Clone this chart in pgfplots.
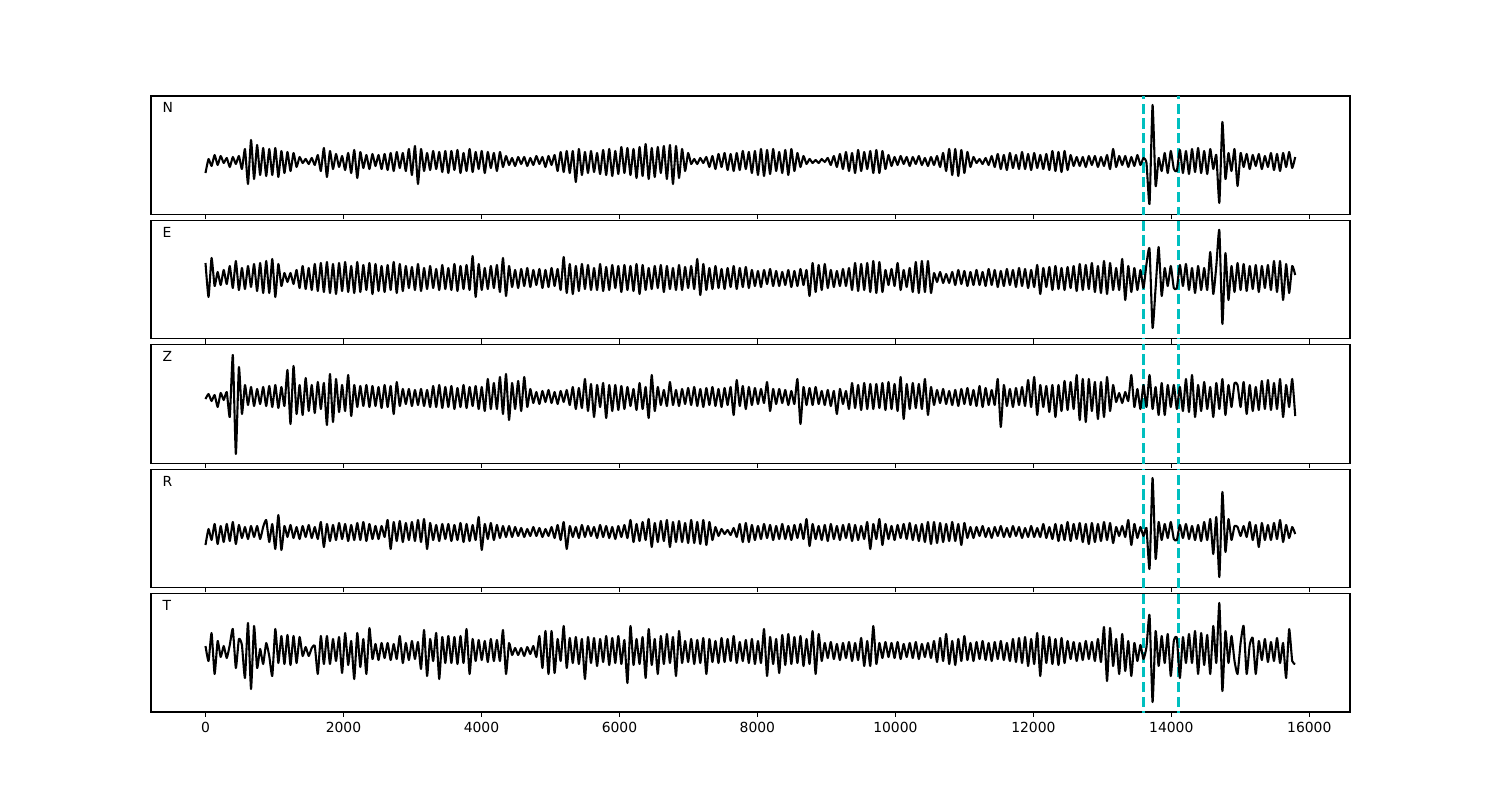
\documentclass[border=0pt]{standalone}
\usepackage{fontspec}
\setmainfont{DejaVu Sans}
\usepackage{pgfplots}
\usepackage{pgfplotstable}
\pgfplotsset{compat=1.18}
\definecolor{mplc}{rgb}{0,0.75,0.75}

% N component
\pgfplotstableread[row sep=\\]{y\\
-12\\ 2\\ -5\\ 6\\ -4\\ 5\\ -2\\ 3\\ -6\\ 4\\ -3\\ 5\\ -8\\ 12\\ -23\\ 21\\ -18\\ 16\\ -14\\ 13\\
-15\\ 12\\ -14\\ 13\\ -16\\ 10\\ -12\\ 9\\ -10\\ 8\\ -6\\ 4\\ -2\\ 2\\ -3\\ 3\\ -4\\ 6\\ -10\\ 13\\
-16\\ 10\\ -8\\ 7\\ -6\\ 5\\ -9\\ 8\\ -12\\ 11\\ -17\\ 9\\ -7\\ 6\\ -8\\ 7\\ -5\\ 6\\ -8\\ 7\\
-9\\ 8\\ -10\\ 9\\ -7\\ 8\\ -10\\ 12\\ -14\\ 15\\ -23\\ 12\\ -10\\ 8\\ -9\\ 10\\ -8\\ 9\\ -11\\ 10\\
-12\\ 10\\ -9\\ 11\\ -12\\ 8\\ -10\\ 12\\ -11\\ 9\\ -8\\ 10\\ -12\\ 9\\ -7\\ 8\\ -10\\ 9\\ -6\\ 5\\
-4\\ 3\\ -5\\ 4\\ -3\\ 4\\ -5\\ 3\\ -4\\ 5\\ -3\\ 4\\ -6\\ 5\\ -4\\ 6\\ -10\\ 9\\ -11\\ 10\\
-12\\ 10\\ -21\\ 12\\ -14\\ 9\\ -12\\ 10\\ -11\\ 8\\ -13\\ 11\\ -14\\ 12\\ -15\\ 10\\ -13\\ 14\\ -12\\ 13\\
-14\\ 12\\ -17\\ 14\\ -15\\ 17\\ -18\\ 13\\ -16\\ 14\\ -12\\ 15\\ -18\\ 16\\ -23\\ 15\\ -17\\ 12\\ -10\\ 8\\
-3\\ 2\\ -3\\ 3\\ -2\\ 4\\ -6\\ 5\\ -8\\ 7\\ -6\\ 8\\ -9\\ 7\\ -10\\ 8\\ -9\\ 10\\ -8\\ 9\\
-12\\ 10\\ -14\\ 12\\ -15\\ 11\\ -13\\ 12\\ -10\\ 9\\ -12\\ 11\\ -14\\ 12\\ -10\\ 8\\ -6\\ 5\\ -3\\ 2\\
-2\\ 1\\ -2\\ 2\\ -1\\ 3\\ -4\\ 5\\ -6\\ 7\\ -8\\ 9\\ -10\\ 8\\ -12\\ 11\\ -10\\ 9\\ -8\\ 10\\
-12\\ 11\\ -12\\ 10\\ -8\\ 6\\ -5\\ 4\\ -4\\ 5\\ -3\\ 4\\ -5\\ 4\\ -3\\ 5\\ -4\\ 3\\ -5\\ 4\\
-4\\ 5\\ -6\\ 8\\ -10\\ 12\\ -14\\ 12\\ -15\\ 11\\ -12\\ 9\\ -6\\ 4\\ -2\\ 2\\ -3\\ 3\\ -4\\ 5\\
-6\\ 7\\ -8\\ 6\\ -9\\ 8\\ -7\\ 6\\ -8\\ 9\\ -8\\ 7\\ -9\\ 8\\ -7\\ 6\\ -8\\ 7\\ -9\\ 10\\
-10\\ 9\\ -11\\ 10\\ -9\\ 6\\ -5\\ 4\\ -5\\ 4\\ -6\\ 5\\ -4\\ 5\\ -6\\ 4\\ -5\\ 6\\ -8\\ 12\\
-6\\ 5\\ -4\\ 5\\ -6\\ 4\\ -5\\ 6\\ -4\\ 3\\ -2\\ -43\\ 56\\ -25\\ 3\\ -10\\ 8\\ -12\\ 10\\ -8\\
-10\\ 11\\ -12\\ 10\\ -13\\ 12\\ -11\\ 13\\ -12\\ 10\\ -13\\ 12\\ -8\\ 6\\ -42\\ 39\\ -18\\ 8\\ -10\\ 12\\
-25\\ 8\\ -6\\ 7\\ -8\\ 6\\ -5\\ 7\\ -8\\ 5\\ -6\\ 8\\ -9\\ 7\\ -10\\ 8\\ -6\\ 9\\ -7\\ 4\\
}\tabN

% E component
\pgfplotstableread[row sep=\\]{y\\
15\\ -19\\ 20\\ -8\\ 6\\ -7\\ 8\\ -6\\ 12\\ -10\\ 17\\ -12\\ 10\\ -11\\ 12\\ -9\\ 14\\ -13\\ 15\\ -15\\
17\\ -15\\ 19\\ -19\\ 14\\ -8\\ 5\\ -4\\ 5\\ -6\\ 8\\ -10\\ 12\\ -11\\ 10\\ -12\\ 14\\ -13\\ 15\\ -14\\
16\\ -15\\ 14\\ -16\\ 15\\ -13\\ 16\\ -14\\ 12\\ -15\\ 16\\ -14\\ 13\\ -12\\ 15\\ -16\\ 14\\ -13\\ 12\\ -14\\
13\\ -12\\ 16\\ -15\\ 14\\ -13\\ 12\\ -10\\ 11\\ -12\\ 14\\ -13\\ 10\\ -11\\ 12\\ -10\\ 9\\ -12\\ 13\\ -11\\
10\\ -12\\ 14\\ -13\\ 12\\ -11\\ 13\\ -12\\ 22\\ -19\\ 14\\ -12\\ 10\\ -11\\ 12\\ -10\\ 13\\ -14\\ 20\\ -18\\
12\\ -9\\ 8\\ -10\\ 9\\ -8\\ 10\\ -9\\ 8\\ -7\\ 9\\ -10\\ 8\\ -9\\ 10\\ -8\\ 9\\ -12\\ 21\\ -15\\
14\\ -16\\ 12\\ -13\\ 14\\ -11\\ 13\\ -12\\ 10\\ -12\\ 14\\ -13\\ 11\\ -12\\ 13\\ -10\\ 12\\ -14\\ 13\\ -12\\
12\\ -13\\ 14\\ -16\\ 13\\ -12\\ 10\\ -11\\ 12\\ -10\\ 13\\ -14\\ 12\\ -11\\ 10\\ -12\\ 13\\ -12\\ 11\\ -10\\
12\\ -11\\ 19\\ -17\\ 14\\ -12\\ 10\\ -11\\ 12\\ -10\\ 9\\ -11\\ 10\\ -9\\ 12\\ -11\\ 10\\ -9\\ 11\\ -10\\
8\\ -8\\ 7\\ -9\\ 8\\ -6\\ 9\\ -8\\ 7\\ -8\\ 6\\ -7\\ 8\\ -9\\ 7\\ -8\\ 9\\ -7\\ 8\\ -18\\
15\\ -14\\ 13\\ -12\\ 14\\ -10\\ 8\\ -9\\ 7\\ -8\\ 9\\ -8\\ 10\\ -12\\ 15\\ -13\\ 14\\ -12\\ 15\\ -14\\
17\\ -15\\ 16\\ -14\\ 8\\ -7\\ 9\\ -8\\ 15\\ -12\\ 8\\ -9\\ 10\\ -14\\ 16\\ -15\\ 17\\ -14\\ 17\\ -15\\
5\\ -4\\ 6\\ -5\\ 4\\ -5\\ 6\\ -7\\ 8\\ -6\\ 7\\ -8\\ 6\\ -7\\ 8\\ -7\\ 6\\ -8\\ 9\\ -7\\
8\\ -9\\ 7\\ -8\\ 9\\ -7\\ 8\\ -9\\ 10\\ -8\\ 9\\ -10\\ 8\\ -9\\ 13\\ -16\\ 10\\ -9\\ 11\\ -12\\
12\\ -11\\ 10\\ -12\\ 11\\ -10\\ 12\\ -13\\ 14\\ -12\\ 13\\ -11\\ 15\\ -14\\ 12\\ -15\\ 17\\ -16\\ 15\\ -12\\
10\\ -12\\ 19\\ -22\\ 12\\ -14\\ 10\\ -12\\ 8\\ -10\\ 14\\ 29\\ -50\\ -10\\ 31\\ -18\\ 10\\ -8\\ 12\\ -10\\
-10\\ 13\\ -8\\ 14\\ -12\\ 10\\ -15\\ 12\\ -12\\ 10\\ -12\\ 26\\ -16\\ 12\\ 48\\ -46\\ 25\\ -22\\ 12\\ -14\\
15\\ -12\\ 14\\ -13\\ 12\\ -11\\ 13\\ -14\\ 12\\ -10\\ 13\\ -12\\ 17\\ -14\\ 17\\ -22\\ 14\\ -15\\ 12\\ 3\\
}\tabE

% Z component
\pgfplotstableread[row sep=\\]{y\\
-2\\ 3\\ -4\\ 2\\ -10\\ 4\\ -3\\ 5\\ -20\\ 42\\ -57\\ 30\\ -17\\ 12\\ -8\\ 10\\ -9\\ 8\\ -7\\ 10\\
-9\\ 11\\ -10\\ 12\\ -11\\ 10\\ -9\\ 27\\ -27\\ 31\\ -17\\ 12\\ -18\\ 19\\ -14\\ 12\\ -16\\ 15\\ -12\\ 14\\
-28\\ 23\\ -25\\ 18\\ -15\\ 12\\ -14\\ 22\\ -19\\ 12\\ -10\\ 11\\ -9\\ 12\\ -10\\ 11\\ -9\\ 10\\ -11\\ 12\\
-10\\ 11\\ -17\\ 15\\ -9\\ 8\\ -7\\ 8\\ -9\\ 7\\ -8\\ 8\\ -9\\ 7\\ -10\\ 11\\ -10\\ 12\\ -11\\ 10\\
-10\\ 11\\ -12\\ 9\\ -10\\ 12\\ -11\\ 10\\ -9\\ 11\\ -12\\ 10\\ -14\\ 18\\ -12\\ 14\\ -12\\ 20\\ -17\\ 23\\
-23\\ 14\\ -12\\ 16\\ -14\\ 20\\ -10\\ 8\\ -6\\ 5\\ -7\\ 6\\ -5\\ 7\\ -6\\ 5\\ -7\\ 6\\ -5\\ 7\\
-8\\ 10\\ -12\\ 9\\ -11\\ 18\\ -14\\ 13\\ -20\\ 12\\ -10\\ 14\\ -21\\ 12\\ -14\\ 12\\ -13\\ 11\\ -12\\ 10\\
-9\\ 8\\ -13\\ 14\\ -12\\ 10\\ -21\\ 22\\ -14\\ 10\\ -8\\ 7\\ -9\\ 15\\ -8\\ 7\\ -9\\ 8\\ -7\\ 9\\
-8\\ 10\\ -9\\ 8\\ -10\\ 9\\ -8\\ 10\\ -9\\ 8\\ -10\\ 9\\ -8\\ 10\\ -18\\ 17\\ -9\\ 11\\ -12\\ 10\\
-8\\ 9\\ -7\\ 8\\ -6\\ 15\\ -14\\ 8\\ -7\\ 8\\ -6\\ 7\\ -8\\ 6\\ -7\\ 18\\ -27\\ 10\\ -8\\ 9\\
-8\\ 10\\ -7\\ 6\\ -8\\ 7\\ -9\\ 6\\ -17\\ 8\\ -7\\ 6\\ -12\\ 14\\ -11\\ 12\\ -13\\ 14\\ -12\\ 13\\
-12\\ 13\\ -11\\ 14\\ -13\\ 15\\ -12\\ 13\\ -14\\ 20\\ -22\\ 13\\ -12\\ 14\\ -11\\ 13\\ -12\\ 18\\ -18\\ 10\\
-8\\ 7\\ -6\\ 8\\ -7\\ 6\\ -8\\ 7\\ -9\\ 8\\ -7\\ 9\\ -8\\ 7\\ -9\\ 11\\ -10\\ 9\\ -8\\ 7\\
-8\\ 18\\ -30\\ 12\\ -9\\ 8\\ -10\\ 9\\ -8\\ 10\\ -9\\ 17\\ -10\\ 20\\ -18\\ 12\\ -10\\ 11\\ -15\\ 12\\
-20\\ 12\\ -14\\ 16\\ -13\\ 15\\ -12\\ 22\\ -23\\ 18\\ -25\\ 18\\ -14\\ 15\\ -22\\ 15\\ -20\\ 20\\ -14\\ 12\\
-5\\ 4\\ -6\\ 5\\ -4\\ 22\\ -10\\ 8\\ -12\\ 12\\ -10\\ 22\\ -12\\ 10\\ -18\\ 14\\ -18\\ 12\\ -10\\ 12\\
-12\\ 10\\ -14\\ 18\\ -15\\ 22\\ -20\\ 12\\ -14\\ 15\\ -12\\ 10\\ -20\\ 14\\ -12\\ 18\\ -18\\ 12\\ -10\\ 14\\
12\\ -10\\ 15\\ -17\\ 12\\ -14\\ 10\\ -13\\ 16\\ -12\\ 17\\ -13\\ 14\\ -12\\ 18\\ -20\\ 12\\ -10\\ 18\\ -19\\
}\tabZ

% R component
\pgfplotstableread[row sep=\\]{y\\
-13\\ 3\\ -8\\ 8\\ -12\\ 6\\ -10\\ 8\\ -9\\ 10\\ -12\\ 7\\ -6\\ 5\\ -7\\ 6\\ -5\\ 6\\ -7\\ 5\\
12\\ -10\\ 8\\ -17\\ 17\\ -18\\ 6\\ -5\\ 7\\ -6\\ 5\\ -7\\ 6\\ -5\\ 7\\ -6\\ 5\\ -7\\ 10\\ -15\\
8\\ -9\\ 7\\ -8\\ 9\\ -7\\ 8\\ -9\\ 7\\ -8\\ 9\\ -8\\ 10\\ -9\\ 8\\ -7\\ 6\\ -7\\ 6\\ -5\\
12\\ -17\\ 10\\ -9\\ 11\\ -10\\ 9\\ -8\\ 10\\ -9\\ 12\\ -10\\ 13\\ -17\\ 9\\ -8\\ 7\\ -9\\ 8\\ -7\\
8\\ -9\\ 7\\ -8\\ 9\\ -10\\ 8\\ -9\\ 7\\ -8\\ 15\\ -18\\ 8\\ -7\\ 9\\ -8\\ 7\\ -6\\ 6\\ -5\\
6\\ -5\\ 5\\ -4\\ 4\\ -5\\ 3\\ -4\\ 5\\ -4\\ 4\\ -5\\ 3\\ -4\\ 5\\ -6\\ 7\\ -8\\ 10\\ -17\\
6\\ -5\\ 5\\ -6\\ 7\\ -5\\ 6\\ -4\\ 5\\ -6\\ 7\\ -5\\ 6\\ -6\\ 5\\ -7\\ 6\\ -5\\ 7\\ -6\\
12\\ -10\\ 8\\ -9\\ 10\\ -8\\ 13\\ -15\\ 9\\ -10\\ 11\\ -9\\ 12\\ -15\\ 10\\ -10\\ 11\\ -10\\ 9\\ -11\\
12\\ -11\\ 10\\ -12\\ 12\\ -13\\ 10\\ -8\\ 5\\ -4\\ 3\\ -2\\ 2\\ -3\\ 4\\ -5\\ 8\\ -10\\ 9\\ -10\\
7\\ -8\\ 6\\ -7\\ 8\\ -6\\ 7\\ -8\\ 6\\ -7\\ 8\\ -7\\ 6\\ -8\\ 7\\ -6\\ 8\\ -7\\ 13\\ -14\\
8\\ -7\\ 6\\ -8\\ 7\\ -9\\ 8\\ -7\\ 6\\ -8\\ 7\\ -6\\ 8\\ -9\\ 7\\ -8\\ 6\\ -7\\ 10\\ -17\\
8\\ -7\\ 13\\ -13\\ 8\\ -7\\ 6\\ -8\\ 7\\ -6\\ 8\\ -7\\ 9\\ -8\\ 7\\ -9\\ 8\\ -10\\ 10\\ -12\\
10\\ -11\\ 9\\ -10\\ 8\\ -9\\ 10\\ -9\\ 8\\ -13\\ 9\\ -6\\ 5\\ -6\\ 5\\ -4\\ 6\\ -5\\ 4\\ -6\\
5\\ -4\\ 6\\ -5\\ 4\\ -5\\ 6\\ -4\\ 5\\ -6\\ 4\\ -5\\ 6\\ -5\\ 4\\ -5\\ 8\\ -6\\ 5\\ -7\\
8\\ -9\\ 7\\ -8\\ 10\\ -9\\ 8\\ -7\\ 9\\ -10\\ 8\\ -12\\ 9\\ -10\\ 8\\ -9\\ 10\\ -8\\ 9\\ -11\\
5\\ -4\\ 6\\ -5\\ 12\\ -13\\ 8\\ -6\\ 5\\ -4\\ 4\\ -37\\ 54\\ -27\\ 10\\ -8\\ 8\\ -6\\ 10\\ -7\\
-8\\ 7\\ -6\\ 8\\ -7\\ 6\\ -8\\ 7\\ -9\\ 10\\ -8\\ 13\\ -22\\ 15\\ -45\\ 40\\ -20\\ 13\\ -8\\ 6\\
5\\ -4\\ 6\\ -5\\ 10\\ -8\\ 7\\ -15\\ 9\\ -8\\ 7\\ -8\\ 9\\ -7\\ 12\\ -10\\ 7\\ -6\\ 5\\ -2\\
}\tabR

% T component
\pgfplotstableread[row sep=\\]{y\\
5\\ -10\\ 18\\ -23\\ 10\\ -6\\ 5\\ -7\\ 6\\ 22\\ -17\\ 12\\ 6\\ -27\\ 28\\ -38\\ 25\\ -17\\ 2\\ -13\\
8\\ -5\\ -25\\ 22\\ -12\\ 15\\ -13\\ 16\\ -14\\ 15\\ -12\\ 14\\ -5\\ 4\\ -5\\ 3\\ 5\\ -23\\ 15\\ -13\\
15\\ -13\\ 12\\ -10\\ 14\\ -22\\ 18\\ -14\\ 10\\ -28\\ 18\\ -16\\ 12\\ -23\\ 23\\ -8\\ 7\\ -9\\ 8\\ -7\\
8\\ -9\\ 7\\ -8\\ 15\\ -12\\ 8\\ -9\\ 10\\ -8\\ 9\\ -18\\ 21\\ -25\\ 12\\ -10\\ 18\\ -28\\ 14\\ -12\\
15\\ -12\\ 14\\ -13\\ 15\\ -12\\ 22\\ -23\\ 12\\ -10\\ 11\\ -9\\ 10\\ -11\\ 12\\ -10\\ 11\\ -10\\ 21\\ -23\\
8\\ -4\\ 3\\ -4\\ 3\\ -5\\ 4\\ -3\\ 5\\ -6\\ 15\\ -17\\ 20\\ -23\\ 20\\ -22\\ 12\\ -10\\ 25\\ -17\\
13\\ -12\\ 14\\ -13\\ 12\\ -28\\ 14\\ -12\\ 13\\ -15\\ 12\\ -11\\ 15\\ -14\\ 13\\ -12\\ 15\\ -13\\ 11\\ -32\\
25\\ -14\\ 12\\ -13\\ 14\\ -27\\ 22\\ -14\\ 12\\ -23\\ 15\\ -13\\ 17\\ -12\\ 14\\ -25\\ 20\\ -12\\ 10\\ -11\\
12\\ -13\\ 11\\ -12\\ 13\\ -23\\ 12\\ -11\\ 10\\ -12\\ 13\\ -11\\ 12\\ -10\\ 15\\ -12\\ 9\\ -10\\ 11\\ -12\\
12\\ -13\\ 10\\ -12\\ 22\\ -25\\ 14\\ -13\\ 12\\ -22\\ 16\\ -14\\ 17\\ -13\\ 14\\ -12\\ 15\\ -15\\ 12\\ -13\\
20\\ -23\\ 17\\ -10\\ 8\\ -7\\ 9\\ -8\\ 7\\ -9\\ 8\\ -7\\ 9\\ -10\\ 8\\ -9\\ 13\\ -15\\ 10\\ -15\\
25\\ -13\\ 8\\ -7\\ 9\\ -6\\ 8\\ -7\\ 9\\ -8\\ 7\\ -6\\ 8\\ -7\\ 9\\ -8\\ 7\\ -6\\ 8\\ -7\\
10\\ -11\\ 13\\ -10\\ 17\\ -13\\ 10\\ -14\\ 12\\ -10\\ 15\\ -9\\ 8\\ -10\\ 9\\ -8\\ 10\\ -9\\ 8\\ -10\\
9\\ -8\\ 10\\ -9\\ 8\\ -10\\ 12\\ -11\\ 13\\ -12\\ 14\\ -15\\ 12\\ -13\\ 18\\ -25\\ 15\\ -12\\ 14\\ -13\\
12\\ -14\\ 13\\ -12\\ 10\\ -8\\ 9\\ -10\\ 8\\ -9\\ 10\\ -8\\ 9\\ -10\\ 12\\ -11\\ 24\\ -30\\ 23\\ -15\\
12\\ -23\\ 17\\ -20\\ 10\\ -25\\ 8\\ -10\\ 6\\ -8\\ 4\\ 36\\ -51\\ 20\\ -15\\ 15\\ -12\\ 17\\ -25\\ 10\\
13\\ -27\\ 14\\ -12\\ 17\\ -12\\ 20\\ -23\\ 18\\ -14\\ 16\\ -23\\ 25\\ -12\\ 48\\ -40\\ 20\\ -12\\ 15\\ -10\\
-23\\ 8\\ 25\\ -23\\ 6\\ 13\\ -23\\ 10\\ -9\\ 12\\ -11\\ 9\\ -10\\ 13\\ -12\\ 8\\ -27\\ 22\\ -10\\ -13\\
}\tabT

\pgfplotsset{
  panel/.style={
    scale only axis, width=11.99in, height=1.184in,
    anchor=north west,
    xmin=-790, xmax=16590,
    xtick={0,2000,...,16000}, ytick=\empty,
    scaled x ticks=false,
    tick align=outside, xtick pos=left,
    major tick length=3.5bp,
    every tick/.style={black, line width=0.8bp},
    axis line style={line width=0.8bp},
    clip=true,
    xticklabels={},
  },
  trace/.style={black, line width=1.5bp, smooth, tension=0.3, no markers, line join=round},
  pick/.style={mplc, line width=2bp, dash pattern=on 7.4bp off 3.2bp, no markers},
}
\newcommand{\lab}[1]{\node[anchor=west, inner sep=0pt, font=\fontsize{10bp}{12bp}\selectfont] at (rel axis cs:0.0095,0.9) {#1};}

\begin{document}
\begin{tikzpicture}
\path[use as bounding box] (0,0) rectangle (15in,-8in);

\begin{axis}[panel, at={(1.51in,-0.96in)}, ymin=-53.4, ymax=65]
\addplot[pick] coordinates {(13600,-100) (13600,100)};
\addplot[pick] coordinates {(14100,-100) (14100,100)};
\addplot[trace] table[x expr=\coordindex*44, y=y] {\tabN};
\lab{N}
\end{axis}

\begin{axis}[panel, at={(1.51in,-2.204in)}, ymin=-60.8, ymax=57.6]
\addplot[pick] coordinates {(13600,-100) (13600,100)};
\addplot[pick] coordinates {(14100,-100) (14100,100)};
\addplot[trace] table[x expr=\coordindex*44, y=y] {\tabE};
\lab{E}
\end{axis}

\begin{axis}[panel, at={(1.51in,-3.448in)}, ymin=-66.2, ymax=52.2]
\addplot[pick] coordinates {(13600,-100) (13600,100)};
\addplot[pick] coordinates {(14100,-100) (14100,100)};
\addplot[trace] table[x expr=\coordindex*44, y=y] {\tabZ};
\lab{Z}
\end{axis}

\begin{axis}[panel, at={(1.51in,-4.692in)}, ymin=-55.6, ymax=62.8]
\addplot[pick] coordinates {(13600,-100) (13600,100)};
\addplot[pick] coordinates {(14100,-100) (14100,100)};
\addplot[trace] table[x expr=\coordindex*44, y=y] {\tabR};
\lab{R}
\end{axis}

\begin{axis}[panel, at={(1.51in,-5.936in)}, ymin=-61, ymax=57.4,
  xticklabels={0,2000,4000,6000,8000,10000,12000,14000,16000},
  xticklabel style={font=\fontsize{10bp}{12bp}\selectfont}]
\addplot[pick] coordinates {(13600,-100) (13600,100)};
\addplot[pick] coordinates {(14100,-100) (14100,100)};
\addplot[trace] table[x expr=\coordindex*44, y=y] {\tabT};
\lab{T}
\end{axis}
\end{tikzpicture}
\end{document}
